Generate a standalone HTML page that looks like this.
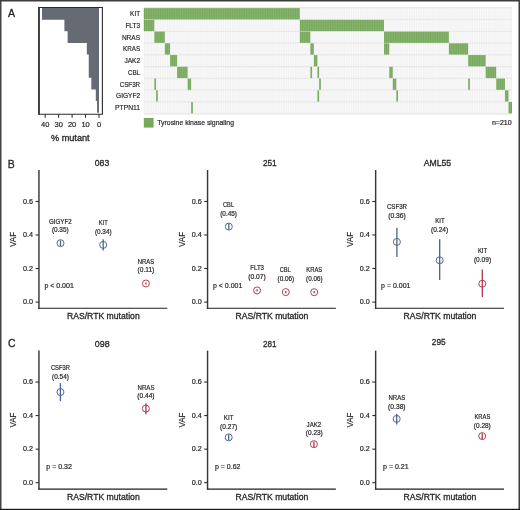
<!DOCTYPE html>
<html><head><meta charset="utf-8"><style>
html,body{margin:0;padding:0;background:#fff;}
svg{display:block;}
text{font-family:"Liberation Sans", sans-serif;stroke:#231f20;stroke-width:0.2px;paint-order:stroke;}
svg{will-change:transform;}
</style></head><body>
<svg width="520" height="510" viewBox="0 0 520 510">
<rect x="0" y="0" width="520" height="510" fill="#ffffff"/>
<text x="8.00" y="16.70" font-size="10.6" text-anchor="start" fill="#231f20" style="stroke-width:0.3px">A</text>
<path d="M99.0 8.1 H42.00 V19.72 H64.41 V31.34 H67.62 V42.96 H86.83 V54.58 H88.75 V66.20 H88.75 V77.82 H91.31 V89.44 H95.80 V101.06 H97.08 V112.68 H99.0 Z" fill="#666a73"/>
<path d="M38.95 7.5 H102.4 V114.2 H38.95 Z" fill="none" stroke="#2b2b2b" stroke-width="1.1"/>
<rect x="38.2" y="7" width="1.5" height="107.7" fill="#2b2b2b"/>
<line x1="99.00" y1="114.4" x2="99.00" y2="117.8" stroke="#1e1e1e" stroke-width="1.0"/>
<text x="99.00" y="127.40" font-size="7.5" text-anchor="middle" fill="#231f20">0</text>
<line x1="85.55" y1="114.4" x2="85.55" y2="117.8" stroke="#1e1e1e" stroke-width="1.0"/>
<text x="85.55" y="127.40" font-size="7.5" text-anchor="middle" fill="#231f20">10</text>
<line x1="72.10" y1="114.4" x2="72.10" y2="117.8" stroke="#1e1e1e" stroke-width="1.0"/>
<text x="72.10" y="127.40" font-size="7.5" text-anchor="middle" fill="#231f20">20</text>
<line x1="58.65" y1="114.4" x2="58.65" y2="117.8" stroke="#1e1e1e" stroke-width="1.0"/>
<text x="58.65" y="127.40" font-size="7.5" text-anchor="middle" fill="#231f20">30</text>
<line x1="45.20" y1="114.4" x2="45.20" y2="117.8" stroke="#1e1e1e" stroke-width="1.0"/>
<text x="45.20" y="127.40" font-size="7.5" text-anchor="middle" fill="#231f20">40</text>
<text x="70.30" y="140.50" font-size="8.9" text-anchor="middle" textLength="38.70" lengthAdjust="spacingAndGlyphs" fill="#231f20" style="stroke-width:0.3px">% mutant</text>
<text x="140.10" y="16.30" font-size="8" text-anchor="end" textLength="10.00" lengthAdjust="spacingAndGlyphs" fill="#231f20">KIT</text>
<text x="140.10" y="28.03" font-size="8" text-anchor="end" textLength="14.70" lengthAdjust="spacingAndGlyphs" fill="#231f20">FLT3</text>
<text x="140.10" y="39.76" font-size="8" text-anchor="end" textLength="18.20" lengthAdjust="spacingAndGlyphs" fill="#231f20">NRAS</text>
<text x="140.10" y="51.49" font-size="8" text-anchor="end" textLength="17.10" lengthAdjust="spacingAndGlyphs" fill="#231f20">KRAS</text>
<text x="140.10" y="63.22" font-size="8" text-anchor="end" textLength="15.70" lengthAdjust="spacingAndGlyphs" fill="#231f20">JAK2</text>
<text x="140.10" y="74.95" font-size="8" text-anchor="end" textLength="12.20" lengthAdjust="spacingAndGlyphs" fill="#231f20">CBL</text>
<text x="140.10" y="86.68" font-size="8" text-anchor="end" textLength="20.40" lengthAdjust="spacingAndGlyphs" fill="#231f20">CSF3R</text>
<text x="140.10" y="98.41" font-size="8" text-anchor="end" textLength="24.00" lengthAdjust="spacingAndGlyphs" fill="#231f20">GIGYF2</text>
<text x="140.10" y="110.14" font-size="8" text-anchor="end" textLength="25.00" lengthAdjust="spacingAndGlyphs" fill="#231f20">PTPN11</text>
<rect x="143.8" y="7.4" width="368.19" height="106.90" fill="#f2f2f3"/>
<path d="M145.55 8.10V113.50M147.31 8.10V113.50M149.06 8.10V113.50M150.81 8.10V113.50M152.57 8.10V113.50M154.32 8.10V113.50M156.07 8.10V113.50M157.83 8.10V113.50M159.58 8.10V113.50M161.33 8.10V113.50M163.09 8.10V113.50M164.84 8.10V113.50M166.59 8.10V113.50M168.35 8.10V113.50M170.10 8.10V113.50M171.85 8.10V113.50M173.61 8.10V113.50M175.36 8.10V113.50M177.11 8.10V113.50M178.87 8.10V113.50M180.62 8.10V113.50M182.37 8.10V113.50M184.13 8.10V113.50M185.88 8.10V113.50M187.63 8.10V113.50M189.39 8.10V113.50M191.14 8.10V113.50M192.89 8.10V113.50M194.65 8.10V113.50M196.40 8.10V113.50M198.15 8.10V113.50M199.91 8.10V113.50M201.66 8.10V113.50M203.41 8.10V113.50M205.17 8.10V113.50M206.92 8.10V113.50M208.67 8.10V113.50M210.43 8.10V113.50M212.18 8.10V113.50M213.93 8.10V113.50M215.69 8.10V113.50M217.44 8.10V113.50M219.19 8.10V113.50M220.95 8.10V113.50M222.70 8.10V113.50M224.45 8.10V113.50M226.21 8.10V113.50M227.96 8.10V113.50M229.71 8.10V113.50M231.47 8.10V113.50M233.22 8.10V113.50M234.97 8.10V113.50M236.72 8.10V113.50M238.48 8.10V113.50M240.23 8.10V113.50M241.98 8.10V113.50M243.74 8.10V113.50M245.49 8.10V113.50M247.24 8.10V113.50M249.00 8.10V113.50M250.75 8.10V113.50M252.50 8.10V113.50M254.26 8.10V113.50M256.01 8.10V113.50M257.76 8.10V113.50M259.52 8.10V113.50M261.27 8.10V113.50M263.02 8.10V113.50M264.78 8.10V113.50M266.53 8.10V113.50M268.28 8.10V113.50M270.04 8.10V113.50M271.79 8.10V113.50M273.54 8.10V113.50M275.30 8.10V113.50M277.05 8.10V113.50M278.80 8.10V113.50M280.56 8.10V113.50M282.31 8.10V113.50M284.06 8.10V113.50M285.82 8.10V113.50M287.57 8.10V113.50M289.32 8.10V113.50M291.08 8.10V113.50M292.83 8.10V113.50M294.58 8.10V113.50M296.34 8.10V113.50M298.09 8.10V113.50M299.84 8.10V113.50M301.60 8.10V113.50M303.35 8.10V113.50M305.10 8.10V113.50M306.86 8.10V113.50M308.61 8.10V113.50M310.36 8.10V113.50M312.12 8.10V113.50M313.87 8.10V113.50M315.62 8.10V113.50M317.38 8.10V113.50M319.13 8.10V113.50M320.88 8.10V113.50M322.64 8.10V113.50M324.39 8.10V113.50M326.14 8.10V113.50M327.90 8.10V113.50M329.65 8.10V113.50M331.40 8.10V113.50M333.16 8.10V113.50M334.91 8.10V113.50M336.66 8.10V113.50M338.42 8.10V113.50M340.17 8.10V113.50M341.92 8.10V113.50M343.68 8.10V113.50M345.43 8.10V113.50M347.18 8.10V113.50M348.94 8.10V113.50M350.69 8.10V113.50M352.44 8.10V113.50M354.20 8.10V113.50M355.95 8.10V113.50M357.70 8.10V113.50M359.46 8.10V113.50M361.21 8.10V113.50M362.96 8.10V113.50M364.72 8.10V113.50M366.47 8.10V113.50M368.22 8.10V113.50M369.98 8.10V113.50M371.73 8.10V113.50M373.48 8.10V113.50M375.24 8.10V113.50M376.99 8.10V113.50M378.74 8.10V113.50M380.50 8.10V113.50M382.25 8.10V113.50M384.00 8.10V113.50M385.76 8.10V113.50M387.51 8.10V113.50M389.26 8.10V113.50M391.02 8.10V113.50M392.77 8.10V113.50M394.52 8.10V113.50M396.28 8.10V113.50M398.03 8.10V113.50M399.78 8.10V113.50M401.54 8.10V113.50M403.29 8.10V113.50M405.04 8.10V113.50M406.80 8.10V113.50M408.55 8.10V113.50M410.30 8.10V113.50M412.05 8.10V113.50M413.81 8.10V113.50M415.56 8.10V113.50M417.31 8.10V113.50M419.07 8.10V113.50M420.82 8.10V113.50M422.57 8.10V113.50M424.33 8.10V113.50M426.08 8.10V113.50M427.83 8.10V113.50M429.59 8.10V113.50M431.34 8.10V113.50M433.09 8.10V113.50M434.85 8.10V113.50M436.60 8.10V113.50M438.35 8.10V113.50M440.11 8.10V113.50M441.86 8.10V113.50M443.61 8.10V113.50M445.37 8.10V113.50M447.12 8.10V113.50M448.87 8.10V113.50M450.63 8.10V113.50M452.38 8.10V113.50M454.13 8.10V113.50M455.89 8.10V113.50M457.64 8.10V113.50M459.39 8.10V113.50M461.15 8.10V113.50M462.90 8.10V113.50M464.65 8.10V113.50M466.41 8.10V113.50M468.16 8.10V113.50M469.91 8.10V113.50M471.67 8.10V113.50M473.42 8.10V113.50M475.17 8.10V113.50M476.93 8.10V113.50M478.68 8.10V113.50M480.43 8.10V113.50M482.19 8.10V113.50M483.94 8.10V113.50M485.69 8.10V113.50M487.45 8.10V113.50M489.20 8.10V113.50M490.95 8.10V113.50M492.71 8.10V113.50M494.46 8.10V113.50M496.21 8.10V113.50M497.97 8.10V113.50M499.72 8.10V113.50M501.47 8.10V113.50M503.23 8.10V113.50M504.98 8.10V113.50M506.73 8.10V113.50M508.49 8.10V113.50M510.24 8.10V113.50" stroke="#ffffff" stroke-width="0.55" stroke-opacity="0.85"/>
<line x1="143.8" y1="7.75" x2="511.99" y2="7.75" stroke="#e2e0e1" stroke-width="0.8"/>
<line x1="143.8" y1="19.62" x2="511.99" y2="19.62" stroke="#e2e0e1" stroke-width="0.8"/>
<line x1="143.8" y1="31.36" x2="511.99" y2="31.36" stroke="#e2e0e1" stroke-width="0.8"/>
<line x1="143.8" y1="43.10" x2="511.99" y2="43.10" stroke="#e2e0e1" stroke-width="0.8"/>
<line x1="143.8" y1="54.84" x2="511.99" y2="54.84" stroke="#e2e0e1" stroke-width="0.8"/>
<line x1="143.8" y1="66.58" x2="511.99" y2="66.58" stroke="#e2e0e1" stroke-width="0.8"/>
<line x1="143.8" y1="78.32" x2="511.99" y2="78.32" stroke="#e2e0e1" stroke-width="0.8"/>
<line x1="143.8" y1="90.06" x2="511.99" y2="90.06" stroke="#e2e0e1" stroke-width="0.8"/>
<line x1="143.8" y1="101.80" x2="511.99" y2="101.80" stroke="#e2e0e1" stroke-width="0.8"/>
<line x1="143.8" y1="113.90" x2="511.99" y2="113.90" stroke="#e2e0e1" stroke-width="0.8"/>
<rect x="143.80" y="8.10" width="156.04" height="11.30" fill="#76a85b"/>
<rect x="143.80" y="19.84" width="10.52" height="11.30" fill="#76a85b"/>
<rect x="299.84" y="19.84" width="84.16" height="11.30" fill="#76a85b"/>
<rect x="154.32" y="31.58" width="10.52" height="11.30" fill="#76a85b"/>
<rect x="299.84" y="31.58" width="10.52" height="11.30" fill="#76a85b"/>
<rect x="384.00" y="31.58" width="64.87" height="11.30" fill="#76a85b"/>
<rect x="164.84" y="43.32" width="5.26" height="11.30" fill="#76a85b"/>
<rect x="310.36" y="43.32" width="3.51" height="11.30" fill="#76a85b"/>
<rect x="384.00" y="43.32" width="5.26" height="11.30" fill="#76a85b"/>
<rect x="448.87" y="43.32" width="19.29" height="11.30" fill="#76a85b"/>
<rect x="170.10" y="55.06" width="7.01" height="11.30" fill="#76a85b"/>
<rect x="313.87" y="55.06" width="3.51" height="11.30" fill="#76a85b"/>
<rect x="468.16" y="55.06" width="17.53" height="11.30" fill="#76a85b"/>
<rect x="177.11" y="66.80" width="10.52" height="11.30" fill="#76a85b"/>
<rect x="310.36" y="66.80" width="1.75" height="11.30" fill="#76a85b"/>
<rect x="317.38" y="66.80" width="1.75" height="11.30" fill="#76a85b"/>
<rect x="389.26" y="66.80" width="3.51" height="11.30" fill="#76a85b"/>
<rect x="485.69" y="66.80" width="10.52" height="11.30" fill="#76a85b"/>
<rect x="154.32" y="78.54" width="1.75" height="11.30" fill="#76a85b"/>
<rect x="187.63" y="78.54" width="3.51" height="11.30" fill="#76a85b"/>
<rect x="319.13" y="78.54" width="1.75" height="11.30" fill="#76a85b"/>
<rect x="392.77" y="78.54" width="3.51" height="11.30" fill="#76a85b"/>
<rect x="468.16" y="78.54" width="1.75" height="11.30" fill="#76a85b"/>
<rect x="496.21" y="78.54" width="8.77" height="11.30" fill="#76a85b"/>
<rect x="156.07" y="90.28" width="1.75" height="11.30" fill="#76a85b"/>
<rect x="317.38" y="90.28" width="1.75" height="11.30" fill="#76a85b"/>
<rect x="396.28" y="90.28" width="1.75" height="11.30" fill="#76a85b"/>
<rect x="504.98" y="90.28" width="3.51" height="11.30" fill="#76a85b"/>
<rect x="191.14" y="102.02" width="1.75" height="11.30" fill="#76a85b"/>
<rect x="508.49" y="102.02" width="3.51" height="11.30" fill="#76a85b"/>
<path d="M145.55 8.10V113.50M147.31 8.10V113.50M149.06 8.10V113.50M150.81 8.10V113.50M152.57 8.10V113.50M154.32 8.10V113.50M156.07 8.10V113.50M157.83 8.10V113.50M159.58 8.10V113.50M161.33 8.10V113.50M163.09 8.10V113.50M164.84 8.10V113.50M166.59 8.10V113.50M168.35 8.10V113.50M170.10 8.10V113.50M171.85 8.10V113.50M173.61 8.10V113.50M175.36 8.10V113.50M177.11 8.10V113.50M178.87 8.10V113.50M180.62 8.10V113.50M182.37 8.10V113.50M184.13 8.10V113.50M185.88 8.10V113.50M187.63 8.10V113.50M189.39 8.10V113.50M191.14 8.10V113.50M192.89 8.10V113.50M194.65 8.10V113.50M196.40 8.10V113.50M198.15 8.10V113.50M199.91 8.10V113.50M201.66 8.10V113.50M203.41 8.10V113.50M205.17 8.10V113.50M206.92 8.10V113.50M208.67 8.10V113.50M210.43 8.10V113.50M212.18 8.10V113.50M213.93 8.10V113.50M215.69 8.10V113.50M217.44 8.10V113.50M219.19 8.10V113.50M220.95 8.10V113.50M222.70 8.10V113.50M224.45 8.10V113.50M226.21 8.10V113.50M227.96 8.10V113.50M229.71 8.10V113.50M231.47 8.10V113.50M233.22 8.10V113.50M234.97 8.10V113.50M236.72 8.10V113.50M238.48 8.10V113.50M240.23 8.10V113.50M241.98 8.10V113.50M243.74 8.10V113.50M245.49 8.10V113.50M247.24 8.10V113.50M249.00 8.10V113.50M250.75 8.10V113.50M252.50 8.10V113.50M254.26 8.10V113.50M256.01 8.10V113.50M257.76 8.10V113.50M259.52 8.10V113.50M261.27 8.10V113.50M263.02 8.10V113.50M264.78 8.10V113.50M266.53 8.10V113.50M268.28 8.10V113.50M270.04 8.10V113.50M271.79 8.10V113.50M273.54 8.10V113.50M275.30 8.10V113.50M277.05 8.10V113.50M278.80 8.10V113.50M280.56 8.10V113.50M282.31 8.10V113.50M284.06 8.10V113.50M285.82 8.10V113.50M287.57 8.10V113.50M289.32 8.10V113.50M291.08 8.10V113.50M292.83 8.10V113.50M294.58 8.10V113.50M296.34 8.10V113.50M298.09 8.10V113.50M299.84 8.10V113.50M301.60 8.10V113.50M303.35 8.10V113.50M305.10 8.10V113.50M306.86 8.10V113.50M308.61 8.10V113.50M310.36 8.10V113.50M312.12 8.10V113.50M313.87 8.10V113.50M315.62 8.10V113.50M317.38 8.10V113.50M319.13 8.10V113.50M320.88 8.10V113.50M322.64 8.10V113.50M324.39 8.10V113.50M326.14 8.10V113.50M327.90 8.10V113.50M329.65 8.10V113.50M331.40 8.10V113.50M333.16 8.10V113.50M334.91 8.10V113.50M336.66 8.10V113.50M338.42 8.10V113.50M340.17 8.10V113.50M341.92 8.10V113.50M343.68 8.10V113.50M345.43 8.10V113.50M347.18 8.10V113.50M348.94 8.10V113.50M350.69 8.10V113.50M352.44 8.10V113.50M354.20 8.10V113.50M355.95 8.10V113.50M357.70 8.10V113.50M359.46 8.10V113.50M361.21 8.10V113.50M362.96 8.10V113.50M364.72 8.10V113.50M366.47 8.10V113.50M368.22 8.10V113.50M369.98 8.10V113.50M371.73 8.10V113.50M373.48 8.10V113.50M375.24 8.10V113.50M376.99 8.10V113.50M378.74 8.10V113.50M380.50 8.10V113.50M382.25 8.10V113.50M384.00 8.10V113.50M385.76 8.10V113.50M387.51 8.10V113.50M389.26 8.10V113.50M391.02 8.10V113.50M392.77 8.10V113.50M394.52 8.10V113.50M396.28 8.10V113.50M398.03 8.10V113.50M399.78 8.10V113.50M401.54 8.10V113.50M403.29 8.10V113.50M405.04 8.10V113.50M406.80 8.10V113.50M408.55 8.10V113.50M410.30 8.10V113.50M412.05 8.10V113.50M413.81 8.10V113.50M415.56 8.10V113.50M417.31 8.10V113.50M419.07 8.10V113.50M420.82 8.10V113.50M422.57 8.10V113.50M424.33 8.10V113.50M426.08 8.10V113.50M427.83 8.10V113.50M429.59 8.10V113.50M431.34 8.10V113.50M433.09 8.10V113.50M434.85 8.10V113.50M436.60 8.10V113.50M438.35 8.10V113.50M440.11 8.10V113.50M441.86 8.10V113.50M443.61 8.10V113.50M445.37 8.10V113.50M447.12 8.10V113.50M448.87 8.10V113.50M450.63 8.10V113.50M452.38 8.10V113.50M454.13 8.10V113.50M455.89 8.10V113.50M457.64 8.10V113.50M459.39 8.10V113.50M461.15 8.10V113.50M462.90 8.10V113.50M464.65 8.10V113.50M466.41 8.10V113.50M468.16 8.10V113.50M469.91 8.10V113.50M471.67 8.10V113.50M473.42 8.10V113.50M475.17 8.10V113.50M476.93 8.10V113.50M478.68 8.10V113.50M480.43 8.10V113.50M482.19 8.10V113.50M483.94 8.10V113.50M485.69 8.10V113.50M487.45 8.10V113.50M489.20 8.10V113.50M490.95 8.10V113.50M492.71 8.10V113.50M494.46 8.10V113.50M496.21 8.10V113.50M497.97 8.10V113.50M499.72 8.10V113.50M501.47 8.10V113.50M503.23 8.10V113.50M504.98 8.10V113.50M506.73 8.10V113.50M508.49 8.10V113.50M510.24 8.10V113.50" stroke="#ffffff" stroke-width="0.5" stroke-opacity="0.25"/>
<rect x="143.8" y="118" width="9.8" height="9.6" fill="#76a85b"/>
<text x="157.30" y="125.30" font-size="7.7" text-anchor="start" textLength="76.70" lengthAdjust="spacingAndGlyphs" fill="#231f20">Tyrosine kinase signaling</text>
<text x="511.70" y="125.10" font-size="7.0" text-anchor="end" textLength="19.80" lengthAdjust="spacingAndGlyphs" fill="#231f20">n=210</text>
<text x="7.80" y="167.60" font-size="10.4" text-anchor="start" fill="#231f20" style="stroke-width:0.3px">B</text>
<text x="8.10" y="347.20" font-size="10.4" text-anchor="start" fill="#231f20" style="stroke-width:0.3px">C</text>
<line x1="38.95" y1="170.00" x2="38.95" y2="308.70" stroke="#383838" stroke-width="1.45"/>
<line x1="38.30" y1="308.20" x2="167.30" y2="308.20" stroke="#1e1e1e" stroke-width="1.05"/>
<line x1="35.60" y1="302.10" x2="38.80" y2="302.10" stroke="#1e1e1e" stroke-width="1.0"/>
<text x="33.10" y="304.20" font-size="7.0" text-anchor="end" textLength="10.00" lengthAdjust="spacingAndGlyphs" fill="#231f20">0.0</text>
<line x1="35.60" y1="268.55" x2="38.80" y2="268.55" stroke="#1e1e1e" stroke-width="1.0"/>
<text x="33.10" y="270.65" font-size="7.0" text-anchor="end" textLength="10.00" lengthAdjust="spacingAndGlyphs" fill="#231f20">0.2</text>
<line x1="35.60" y1="235.00" x2="38.80" y2="235.00" stroke="#1e1e1e" stroke-width="1.0"/>
<text x="33.10" y="237.10" font-size="7.0" text-anchor="end" textLength="10.00" lengthAdjust="spacingAndGlyphs" fill="#231f20">0.4</text>
<line x1="35.60" y1="201.45" x2="38.80" y2="201.45" stroke="#1e1e1e" stroke-width="1.0"/>
<text x="33.10" y="203.55" font-size="7.0" text-anchor="end" textLength="10.00" lengthAdjust="spacingAndGlyphs" fill="#231f20">0.6</text>
<text x="0" y="0" font-size="9.2" text-anchor="middle" fill="#231f20" transform="translate(16.20 239.40) rotate(-90)" textLength="15" lengthAdjust="spacingAndGlyphs">VAF</text>
<text x="94.80" y="166.20" font-size="9.9" text-anchor="start" textLength="14.40" lengthAdjust="spacingAndGlyphs" fill="#231f20" style="stroke-width:0.3px">083</text>
<text x="103.30" y="319.40" font-size="9.2" text-anchor="middle" textLength="72.80" lengthAdjust="spacingAndGlyphs" fill="#231f20" style="stroke-width:0.3px">RAS/RTK mutation</text>
<text x="59.10" y="288.00" font-size="7.0" text-anchor="middle" fill="#231f20">p &lt; 0.001</text>
<line x1="60.50" y1="240.50" x2="60.50" y2="246.00" stroke="#48638f" stroke-width="1.3"/>
<circle cx="60.50" cy="243.20" r="3.5" fill="none" stroke="#48638f" stroke-width="0.95"/>
<text x="48.90" y="223.70" font-size="7.0" text-anchor="start" textLength="22.80" lengthAdjust="spacingAndGlyphs" fill="#231f20">GIGYF2</text>
<text x="51.90" y="232.20" font-size="7.0" text-anchor="start" textLength="16.70" lengthAdjust="spacingAndGlyphs" fill="#231f20">(0.35)</text>
<line x1="103.20" y1="239.20" x2="103.20" y2="250.60" stroke="#48638f" stroke-width="1.3"/>
<circle cx="103.20" cy="244.90" r="3.5" fill="none" stroke="#48638f" stroke-width="0.95"/>
<text x="98.80" y="225.00" font-size="7.0" text-anchor="start" textLength="8.90" lengthAdjust="spacingAndGlyphs" fill="#231f20">KIT</text>
<text x="94.90" y="233.70" font-size="7.0" text-anchor="start" textLength="16.70" lengthAdjust="spacingAndGlyphs" fill="#231f20">(0.34)</text>
<line x1="145.90" y1="282.40" x2="145.90" y2="284.60" stroke="#b0354c" stroke-width="1.3"/>
<circle cx="145.90" cy="283.50" r="3.5" fill="none" stroke="#b0354c" stroke-width="0.95"/>
<text x="137.80" y="263.70" font-size="7.0" text-anchor="start" textLength="16.50" lengthAdjust="spacingAndGlyphs" fill="#231f20">NRAS</text>
<text x="137.50" y="272.10" font-size="7.0" text-anchor="start" textLength="16.80" lengthAdjust="spacingAndGlyphs" fill="#231f20">(0.11)</text>
<line x1="207.55" y1="170.00" x2="207.55" y2="308.70" stroke="#383838" stroke-width="1.45"/>
<line x1="206.90" y1="308.20" x2="335.90" y2="308.20" stroke="#1e1e1e" stroke-width="1.05"/>
<line x1="204.20" y1="302.10" x2="207.40" y2="302.10" stroke="#1e1e1e" stroke-width="1.0"/>
<text x="201.70" y="304.20" font-size="7.0" text-anchor="end" textLength="10.00" lengthAdjust="spacingAndGlyphs" fill="#231f20">0.0</text>
<line x1="204.20" y1="268.55" x2="207.40" y2="268.55" stroke="#1e1e1e" stroke-width="1.0"/>
<text x="201.70" y="270.65" font-size="7.0" text-anchor="end" textLength="10.00" lengthAdjust="spacingAndGlyphs" fill="#231f20">0.2</text>
<line x1="204.20" y1="235.00" x2="207.40" y2="235.00" stroke="#1e1e1e" stroke-width="1.0"/>
<text x="201.70" y="237.10" font-size="7.0" text-anchor="end" textLength="10.00" lengthAdjust="spacingAndGlyphs" fill="#231f20">0.4</text>
<line x1="204.20" y1="201.45" x2="207.40" y2="201.45" stroke="#1e1e1e" stroke-width="1.0"/>
<text x="201.70" y="203.55" font-size="7.0" text-anchor="end" textLength="10.00" lengthAdjust="spacingAndGlyphs" fill="#231f20">0.6</text>
<text x="0" y="0" font-size="9.2" text-anchor="middle" fill="#231f20" transform="translate(184.80 239.40) rotate(-90)" textLength="15" lengthAdjust="spacingAndGlyphs">VAF</text>
<text x="262.90" y="166.10" font-size="9.9" text-anchor="start" textLength="13.80" lengthAdjust="spacingAndGlyphs" fill="#231f20" style="stroke-width:0.3px">251</text>
<text x="271.90" y="319.40" font-size="9.2" text-anchor="middle" textLength="72.80" lengthAdjust="spacingAndGlyphs" fill="#231f20" style="stroke-width:0.3px">RAS/RTK mutation</text>
<text x="227.70" y="288.00" font-size="7.0" text-anchor="middle" fill="#231f20">p &lt; 0.001</text>
<line x1="228.80" y1="223.50" x2="228.80" y2="229.80" stroke="#48638f" stroke-width="1.3"/>
<circle cx="228.80" cy="226.60" r="3.5" fill="none" stroke="#48638f" stroke-width="0.95"/>
<text x="223.00" y="206.90" font-size="7.0" text-anchor="start" textLength="11.10" lengthAdjust="spacingAndGlyphs" fill="#231f20">CBL</text>
<text x="220.20" y="215.60" font-size="7.0" text-anchor="start" textLength="16.80" lengthAdjust="spacingAndGlyphs" fill="#231f20">(0.45)</text>
<line x1="257.10" y1="289.30" x2="257.10" y2="291.50" stroke="#b0354c" stroke-width="1.3"/>
<circle cx="257.10" cy="290.40" r="3.5" fill="none" stroke="#b0354c" stroke-width="0.95"/>
<text x="250.30" y="270.40" font-size="7.0" text-anchor="start" textLength="13.70" lengthAdjust="spacingAndGlyphs" fill="#231f20">FLT3</text>
<text x="248.20" y="278.90" font-size="7.0" text-anchor="start" textLength="17.60" lengthAdjust="spacingAndGlyphs" fill="#231f20">(0.07)</text>
<line x1="285.80" y1="291.00" x2="285.80" y2="293.20" stroke="#b0354c" stroke-width="1.3"/>
<circle cx="285.80" cy="292.10" r="3.5" fill="none" stroke="#b0354c" stroke-width="0.95"/>
<text x="279.80" y="272.10" font-size="7.0" text-anchor="start" textLength="10.90" lengthAdjust="spacingAndGlyphs" fill="#231f20">CBL</text>
<text x="277.60" y="280.70" font-size="7.0" text-anchor="start" textLength="16.60" lengthAdjust="spacingAndGlyphs" fill="#231f20">(0.06)</text>
<line x1="314.20" y1="291.10" x2="314.20" y2="293.30" stroke="#b0354c" stroke-width="1.3"/>
<circle cx="314.20" cy="292.20" r="3.5" fill="none" stroke="#b0354c" stroke-width="0.95"/>
<text x="306.20" y="271.80" font-size="7.0" text-anchor="start" textLength="16.10" lengthAdjust="spacingAndGlyphs" fill="#231f20">KRAS</text>
<text x="306.10" y="280.50" font-size="7.0" text-anchor="start" textLength="16.40" lengthAdjust="spacingAndGlyphs" fill="#231f20">(0.06)</text>
<line x1="375.65" y1="170.00" x2="375.65" y2="308.70" stroke="#383838" stroke-width="1.45"/>
<line x1="375.00" y1="308.20" x2="504.00" y2="308.20" stroke="#1e1e1e" stroke-width="1.05"/>
<line x1="372.30" y1="302.10" x2="375.50" y2="302.10" stroke="#1e1e1e" stroke-width="1.0"/>
<text x="369.80" y="304.20" font-size="7.0" text-anchor="end" textLength="10.00" lengthAdjust="spacingAndGlyphs" fill="#231f20">0.0</text>
<line x1="372.30" y1="268.55" x2="375.50" y2="268.55" stroke="#1e1e1e" stroke-width="1.0"/>
<text x="369.80" y="270.65" font-size="7.0" text-anchor="end" textLength="10.00" lengthAdjust="spacingAndGlyphs" fill="#231f20">0.2</text>
<line x1="372.30" y1="235.00" x2="375.50" y2="235.00" stroke="#1e1e1e" stroke-width="1.0"/>
<text x="369.80" y="237.10" font-size="7.0" text-anchor="end" textLength="10.00" lengthAdjust="spacingAndGlyphs" fill="#231f20">0.4</text>
<line x1="372.30" y1="201.45" x2="375.50" y2="201.45" stroke="#1e1e1e" stroke-width="1.0"/>
<text x="369.80" y="203.55" font-size="7.0" text-anchor="end" textLength="10.00" lengthAdjust="spacingAndGlyphs" fill="#231f20">0.6</text>
<text x="0" y="0" font-size="9.2" text-anchor="middle" fill="#231f20" transform="translate(352.90 239.40) rotate(-90)" textLength="15" lengthAdjust="spacingAndGlyphs">VAF</text>
<text x="423.70" y="166.20" font-size="9.9" text-anchor="start" textLength="27.50" lengthAdjust="spacingAndGlyphs" fill="#231f20" style="stroke-width:0.3px">AML55</text>
<text x="440.00" y="319.40" font-size="9.2" text-anchor="middle" textLength="72.80" lengthAdjust="spacingAndGlyphs" fill="#231f20" style="stroke-width:0.3px">RAS/RTK mutation</text>
<text x="395.80" y="288.00" font-size="7.0" text-anchor="middle" fill="#231f20">p = 0.001</text>
<line x1="396.90" y1="227.80" x2="396.90" y2="256.90" stroke="#48638f" stroke-width="1.3"/>
<circle cx="396.90" cy="241.90" r="3.5" fill="none" stroke="#48638f" stroke-width="0.95"/>
<text x="386.90" y="209.00" font-size="7.0" text-anchor="start" textLength="20.10" lengthAdjust="spacingAndGlyphs" fill="#231f20">CSF3R</text>
<text x="388.20" y="217.60" font-size="7.0" text-anchor="start" textLength="17.60" lengthAdjust="spacingAndGlyphs" fill="#231f20">(0.36)</text>
<line x1="439.70" y1="239.20" x2="439.70" y2="280.00" stroke="#48638f" stroke-width="1.3"/>
<circle cx="439.70" cy="260.30" r="3.5" fill="none" stroke="#48638f" stroke-width="0.95"/>
<text x="435.20" y="223.00" font-size="7.0" text-anchor="start" textLength="9.40" lengthAdjust="spacingAndGlyphs" fill="#231f20">KIT</text>
<text x="431.00" y="231.90" font-size="7.0" text-anchor="start" textLength="17.20" lengthAdjust="spacingAndGlyphs" fill="#231f20">(0.24)</text>
<line x1="482.30" y1="269.60" x2="482.30" y2="297.00" stroke="#b0354c" stroke-width="1.3"/>
<circle cx="482.30" cy="283.70" r="3.5" fill="none" stroke="#b0354c" stroke-width="0.95"/>
<text x="477.90" y="253.40" font-size="7.0" text-anchor="start" textLength="9.20" lengthAdjust="spacingAndGlyphs" fill="#231f20">KIT</text>
<text x="473.90" y="262.30" font-size="7.0" text-anchor="start" textLength="17.20" lengthAdjust="spacingAndGlyphs" fill="#231f20">(0.09)</text>
<line x1="38.95" y1="350.60" x2="38.95" y2="489.30" stroke="#383838" stroke-width="1.45"/>
<line x1="38.30" y1="489.10" x2="167.30" y2="489.10" stroke="#1e1e1e" stroke-width="1.05"/>
<line x1="35.60" y1="482.70" x2="38.80" y2="482.70" stroke="#1e1e1e" stroke-width="1.0"/>
<text x="33.10" y="484.80" font-size="7.0" text-anchor="end" textLength="10.00" lengthAdjust="spacingAndGlyphs" fill="#231f20">0.0</text>
<line x1="35.60" y1="449.15" x2="38.80" y2="449.15" stroke="#1e1e1e" stroke-width="1.0"/>
<text x="33.10" y="451.25" font-size="7.0" text-anchor="end" textLength="10.00" lengthAdjust="spacingAndGlyphs" fill="#231f20">0.2</text>
<line x1="35.60" y1="415.60" x2="38.80" y2="415.60" stroke="#1e1e1e" stroke-width="1.0"/>
<text x="33.10" y="417.70" font-size="7.0" text-anchor="end" textLength="10.00" lengthAdjust="spacingAndGlyphs" fill="#231f20">0.4</text>
<line x1="35.60" y1="382.05" x2="38.80" y2="382.05" stroke="#1e1e1e" stroke-width="1.0"/>
<text x="33.10" y="384.15" font-size="7.0" text-anchor="end" textLength="10.00" lengthAdjust="spacingAndGlyphs" fill="#231f20">0.6</text>
<text x="0" y="0" font-size="9.2" text-anchor="middle" fill="#231f20" transform="translate(16.20 420.00) rotate(-90)" textLength="15" lengthAdjust="spacingAndGlyphs">VAF</text>
<text x="94.80" y="346.80" font-size="9.9" text-anchor="start" textLength="14.80" lengthAdjust="spacingAndGlyphs" fill="#231f20" style="stroke-width:0.3px">098</text>
<text x="103.30" y="500.00" font-size="9.2" text-anchor="middle" textLength="72.80" lengthAdjust="spacingAndGlyphs" fill="#231f20" style="stroke-width:0.3px">RAS/RTK mutation</text>
<text x="59.10" y="468.60" font-size="7.0" text-anchor="middle" fill="#231f20">p = 0.32</text>
<line x1="60.40" y1="383.10" x2="60.40" y2="401.10" stroke="#48638f" stroke-width="1.3"/>
<circle cx="60.40" cy="392.10" r="3.5" fill="none" stroke="#48638f" stroke-width="0.95"/>
<text x="50.90" y="369.90" font-size="7.0" text-anchor="start" textLength="19.10" lengthAdjust="spacingAndGlyphs" fill="#231f20">CSF3R</text>
<text x="52.00" y="378.70" font-size="7.0" text-anchor="start" textLength="16.90" lengthAdjust="spacingAndGlyphs" fill="#231f20">(0.54)</text>
<line x1="145.90" y1="403.20" x2="145.90" y2="414.30" stroke="#b0354c" stroke-width="1.3"/>
<circle cx="145.90" cy="408.60" r="3.5" fill="none" stroke="#b0354c" stroke-width="0.95"/>
<text x="137.50" y="389.50" font-size="7.0" text-anchor="start" textLength="17.00" lengthAdjust="spacingAndGlyphs" fill="#231f20">NRAS</text>
<text x="137.30" y="398.20" font-size="7.0" text-anchor="start" textLength="17.20" lengthAdjust="spacingAndGlyphs" fill="#231f20">(0.44)</text>
<line x1="207.55" y1="350.60" x2="207.55" y2="489.30" stroke="#383838" stroke-width="1.45"/>
<line x1="206.90" y1="489.10" x2="335.90" y2="489.10" stroke="#1e1e1e" stroke-width="1.05"/>
<line x1="204.20" y1="482.70" x2="207.40" y2="482.70" stroke="#1e1e1e" stroke-width="1.0"/>
<text x="201.70" y="484.80" font-size="7.0" text-anchor="end" textLength="10.00" lengthAdjust="spacingAndGlyphs" fill="#231f20">0.0</text>
<line x1="204.20" y1="449.15" x2="207.40" y2="449.15" stroke="#1e1e1e" stroke-width="1.0"/>
<text x="201.70" y="451.25" font-size="7.0" text-anchor="end" textLength="10.00" lengthAdjust="spacingAndGlyphs" fill="#231f20">0.2</text>
<line x1="204.20" y1="415.60" x2="207.40" y2="415.60" stroke="#1e1e1e" stroke-width="1.0"/>
<text x="201.70" y="417.70" font-size="7.0" text-anchor="end" textLength="10.00" lengthAdjust="spacingAndGlyphs" fill="#231f20">0.4</text>
<line x1="204.20" y1="382.05" x2="207.40" y2="382.05" stroke="#1e1e1e" stroke-width="1.0"/>
<text x="201.70" y="384.15" font-size="7.0" text-anchor="end" textLength="10.00" lengthAdjust="spacingAndGlyphs" fill="#231f20">0.6</text>
<text x="0" y="0" font-size="9.2" text-anchor="middle" fill="#231f20" transform="translate(184.80 420.00) rotate(-90)" textLength="15" lengthAdjust="spacingAndGlyphs">VAF</text>
<text x="263.10" y="346.80" font-size="9.9" text-anchor="start" textLength="13.40" lengthAdjust="spacingAndGlyphs" fill="#231f20" style="stroke-width:0.3px">281</text>
<text x="271.90" y="500.00" font-size="9.2" text-anchor="middle" textLength="72.80" lengthAdjust="spacingAndGlyphs" fill="#231f20" style="stroke-width:0.3px">RAS/RTK mutation</text>
<text x="227.70" y="468.60" font-size="7.0" text-anchor="middle" fill="#231f20">p = 0.62</text>
<line x1="228.70" y1="434.60" x2="228.70" y2="440.20" stroke="#48638f" stroke-width="1.3"/>
<circle cx="228.70" cy="437.40" r="3.5" fill="none" stroke="#48638f" stroke-width="0.95"/>
<text x="223.80" y="419.70" font-size="7.0" text-anchor="start" textLength="9.70" lengthAdjust="spacingAndGlyphs" fill="#231f20">KIT</text>
<text x="220.10" y="428.60" font-size="7.0" text-anchor="start" textLength="17.20" lengthAdjust="spacingAndGlyphs" fill="#231f20">(0.27)</text>
<line x1="313.90" y1="441.40" x2="313.90" y2="447.00" stroke="#b0354c" stroke-width="1.3"/>
<circle cx="313.90" cy="444.20" r="3.5" fill="none" stroke="#b0354c" stroke-width="0.95"/>
<text x="306.60" y="426.70" font-size="7.0" text-anchor="start" textLength="14.50" lengthAdjust="spacingAndGlyphs" fill="#231f20">JAK2</text>
<text x="305.80" y="435.40" font-size="7.0" text-anchor="start" textLength="17.00" lengthAdjust="spacingAndGlyphs" fill="#231f20">(0.23)</text>
<line x1="375.65" y1="350.60" x2="375.65" y2="489.30" stroke="#383838" stroke-width="1.45"/>
<line x1="375.00" y1="489.10" x2="504.00" y2="489.10" stroke="#1e1e1e" stroke-width="1.05"/>
<line x1="372.30" y1="482.70" x2="375.50" y2="482.70" stroke="#1e1e1e" stroke-width="1.0"/>
<text x="369.80" y="484.80" font-size="7.0" text-anchor="end" textLength="10.00" lengthAdjust="spacingAndGlyphs" fill="#231f20">0.0</text>
<line x1="372.30" y1="449.15" x2="375.50" y2="449.15" stroke="#1e1e1e" stroke-width="1.0"/>
<text x="369.80" y="451.25" font-size="7.0" text-anchor="end" textLength="10.00" lengthAdjust="spacingAndGlyphs" fill="#231f20">0.2</text>
<line x1="372.30" y1="415.60" x2="375.50" y2="415.60" stroke="#1e1e1e" stroke-width="1.0"/>
<text x="369.80" y="417.70" font-size="7.0" text-anchor="end" textLength="10.00" lengthAdjust="spacingAndGlyphs" fill="#231f20">0.4</text>
<line x1="372.30" y1="382.05" x2="375.50" y2="382.05" stroke="#1e1e1e" stroke-width="1.0"/>
<text x="369.80" y="384.15" font-size="7.0" text-anchor="end" textLength="10.00" lengthAdjust="spacingAndGlyphs" fill="#231f20">0.6</text>
<text x="0" y="0" font-size="9.2" text-anchor="middle" fill="#231f20" transform="translate(352.90 420.00) rotate(-90)" textLength="15" lengthAdjust="spacingAndGlyphs">VAF</text>
<text x="431.80" y="345.00" font-size="9.9" text-anchor="start" textLength="13.80" lengthAdjust="spacingAndGlyphs" fill="#231f20" style="stroke-width:0.3px">295</text>
<text x="440.00" y="500.00" font-size="9.2" text-anchor="middle" textLength="72.80" lengthAdjust="spacingAndGlyphs" fill="#231f20" style="stroke-width:0.3px">RAS/RTK mutation</text>
<text x="395.80" y="468.60" font-size="7.0" text-anchor="middle" fill="#231f20">p = 0.21</text>
<line x1="396.70" y1="413.80" x2="396.70" y2="424.60" stroke="#48638f" stroke-width="1.3"/>
<circle cx="396.70" cy="418.90" r="3.5" fill="none" stroke="#48638f" stroke-width="0.95"/>
<text x="388.40" y="400.10" font-size="7.0" text-anchor="start" textLength="16.90" lengthAdjust="spacingAndGlyphs" fill="#231f20">NRAS</text>
<text x="388.10" y="409.00" font-size="7.0" text-anchor="start" textLength="17.50" lengthAdjust="spacingAndGlyphs" fill="#231f20">(0.38)</text>
<line x1="482.20" y1="433.20" x2="482.20" y2="439.00" stroke="#b0354c" stroke-width="1.3"/>
<circle cx="482.20" cy="436.10" r="3.5" fill="none" stroke="#b0354c" stroke-width="0.95"/>
<text x="474.50" y="419.40" font-size="7.0" text-anchor="start" textLength="15.80" lengthAdjust="spacingAndGlyphs" fill="#231f20">KRAS</text>
<text x="473.80" y="427.80" font-size="7.0" text-anchor="start" textLength="17.00" lengthAdjust="spacingAndGlyphs" fill="#231f20">(0.28)</text>
<rect x="0" y="0" width="1.5" height="510" fill="#454545"/>
<rect x="0" y="0" width="520" height="1.5" fill="#3c3c3c"/>
<rect x="518.5" y="0" width="1.5" height="510" fill="#3c3c3c"/>
<rect x="0" y="508.8" width="520" height="1.2" fill="#151515"/>
</svg>
</body></html>
